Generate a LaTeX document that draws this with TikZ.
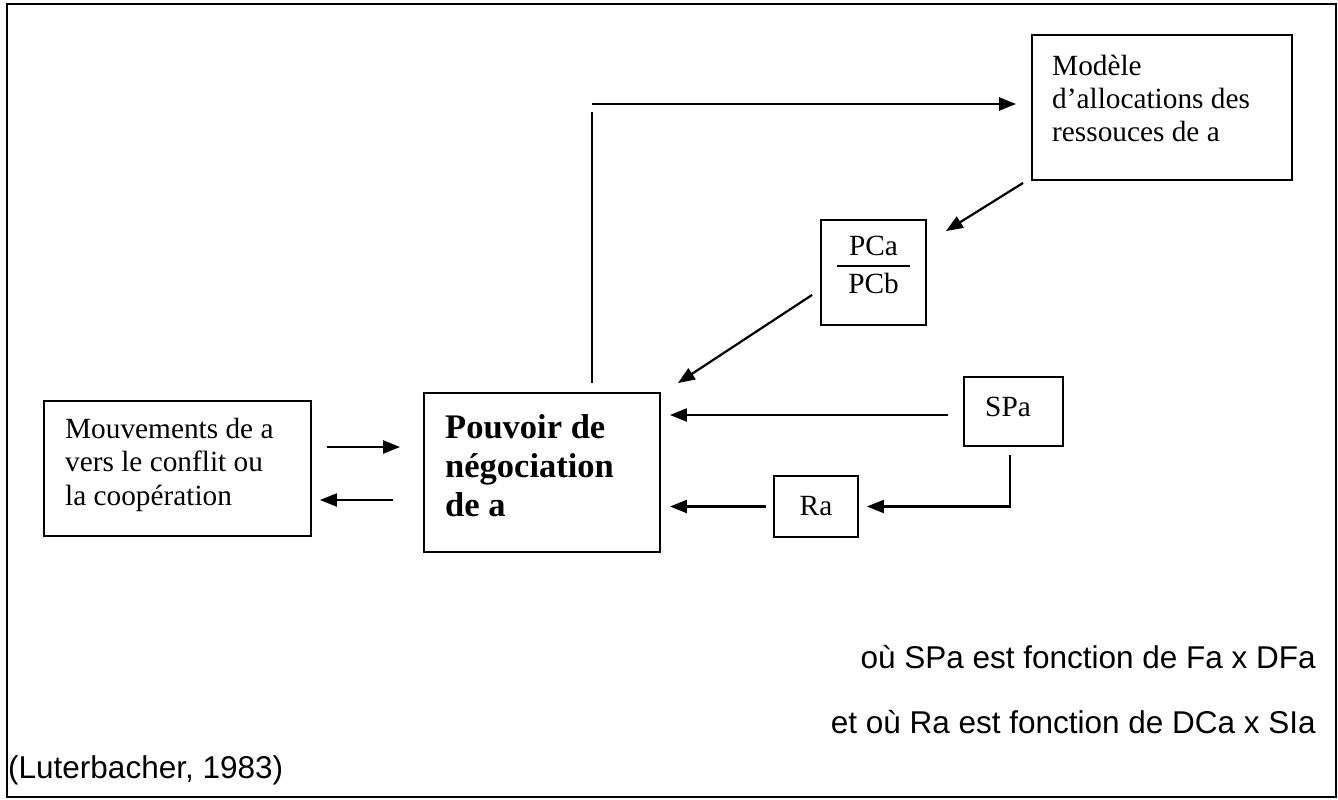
\documentclass[tikz,border=0pt]{standalone}
\usepackage{fontspec}
\setmainfont{Liberation Serif}
\newfontfamily\arialfont{Liberation Sans}
\usetikzlibrary{arrows.meta,calc}
\begin{document}
\begin{tikzpicture}[x=1pt,y=-1pt,
  box/.style={draw,line width=1.8pt,inner sep=0pt},
  txt/.style={inner sep=0pt,anchor=base west,font=\fontsize{29.3}{33.5}\selectfont},
  ctxt/.style={inner sep=0pt,anchor=base,font=\fontsize{29.3}{33.5}\selectfont},
  btxt/.style={inner sep=0pt,anchor=base west,font=\bfseries\fontsize{34.5}{39.5}\selectfont},
  note/.style={inner sep=0pt,font=\arialfont\fontsize{31.5}{36}\selectfont},
  arr/.style={line width=2.2pt,-{Triangle[length=17pt,width=13pt]}},
  ln/.style={line width=2.2pt}]
\useasboundingbox (0,0) rectangle (1338,800);
\draw[line width=2.5pt] (7,4) rectangle (1336,797);

% boxes
\node[box,minimum width=260pt,minimum height=145pt] (modele) at (1162,107.5) {};
\node[box,minimum width=105pt,minimum height=105pt] (pc) at (873.5,272.5) {};
\node[box,minimum width=236pt,minimum height=159pt] (pouvoir) at (542,472.5) {};
\node[box,minimum width=267pt,minimum height=135pt] (mouv) at (177.5,468.5) {};
\node[box,minimum width=99pt,minimum height=69pt] (spa) at (1013.5,411.5) {};
\node[box,minimum width=84pt,minimum height=61pt] (ra) at (816,506.5) {};

% texts
\node[txt] (m1) at (1052,75) {Modèle};
\node[txt] (m2) at (1052,108) {d’allocations des};
\node[txt] (m3) at (1052,141) {ressouces de a};
\node[ctxt] (pca) at (873.5,255) {PCa};
\node[ctxt] (pcb) at (873.5,293) {PCb};
\draw[line width=2pt] (837,266) -- (910,266);
\node[btxt] (p1) at (445,438) {Pouvoir de};
\node[btxt] (p2) at (445,477) {négociation};
\node[btxt] (p3) at (445,516) {de a};
\node[txt] (v1) at (65,438) {Mouvements de a};
\node[txt] (v2) at (65,471) {vers le conflit ou};
\node[txt] (v3) at (65,505) {la coopération};
\node[txt] (spat) at (985,416) {SPa};
\node[ctxt] (rat) at (816,515) {Ra};
\node[note,anchor=base east] (n1) at (1316,668) {où SPa est fonction de Fa x DFa};
\node[note,anchor=base east] (n2) at (1316,733) {et où Ra est fonction de DCa x SIa};
\node[note,anchor=base west] (n3) at (8,778) {(Luterbacher, 1983)};

% connectors
\coordinate (vs) at ($(pouvoir.north)+(50,-9)$);
\coordinate (ve) at (592,112);
\coordinate (hs) at (592,104);
\draw[ln] (vs) -- (ve);
\draw[arr] (hs) -- ($(modele.west |- hs)+(-15,0)$);
\draw[arr] ($(modele.south west)+(-8,2)$) -- ($(pc.north east)+(19,12)$);
\draw[arr] ($(pc.south west)+(-8,-31)$) -- ($(pouvoir.north east)+(17,-9)$);
\coordinate (s4) at ($(spa.west)+(-15,3.5)$);
\draw[arr] (s4) -- ($(pouvoir.east |- s4)+(9,0)$);
\coordinate (s5) at ($(spa.south)+(-3.5,8)$);
\coordinate (c5) at (s5 |- ra.east);
\draw[arr] (s5) -- (c5) -- ($(ra.east)+(8,0)$);
\draw[arr] ($(ra.west)+(-7,0)$) -- ($(pouvoir.east |- ra.west)+(9,0)$);
\coordinate (s7) at ($(mouv.east)+(15,-21.5)$);
\draw[arr] (s7) -- ($(pouvoir.west |- s7)+(-23,0)$);
\coordinate (s8) at ($(pouvoir.west)+(-30,27.5)$);
\draw[arr] (s8) -- ($(mouv.east |- s8)+(8,0)$);
\end{tikzpicture}
\end{document}
